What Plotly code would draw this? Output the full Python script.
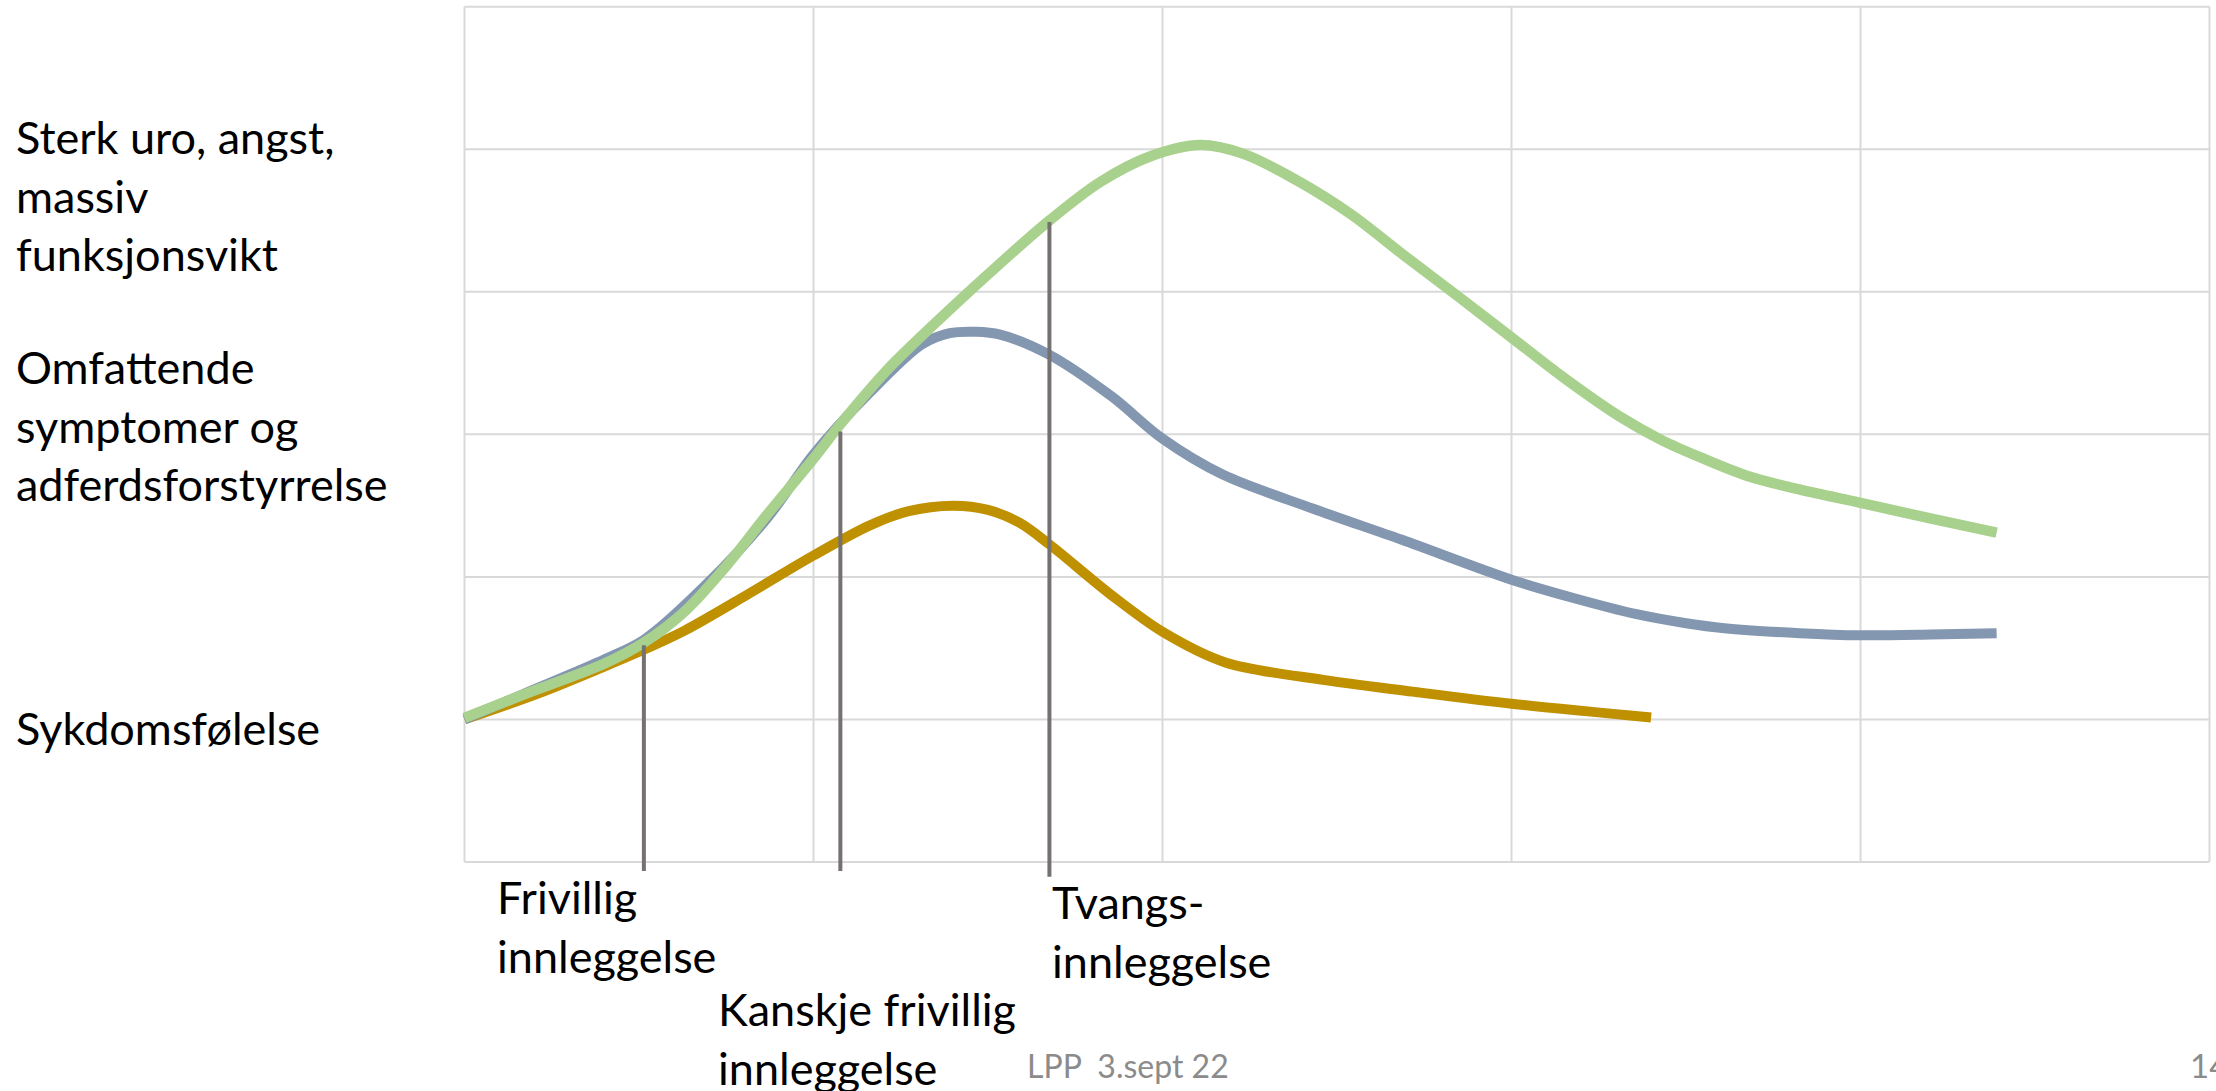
import plotly.graph_objects as go

# ---------------- data ----------------
yellow_x = [0, 0.22, 0.40, 0.515, 0.632, 0.81, 1.0, 1.16, 1.27, 1.40, 1.50, 1.59, 1.675, 1.855, 2.0, 2.18, 2.46, 2.716, 3.0, 3.40]
yellow_y = [1.0, 1.19, 1.37, 1.49, 1.625, 1.875, 2.15, 2.36, 2.46, 2.50, 2.47, 2.38, 2.23, 1.87, 1.615, 1.40, 1.277, 1.195, 1.11, 1.013]

blue_x = [0, 0.17, 0.40, 0.515, 0.69, 0.87, 1.0, 1.16, 1.31, 1.39, 1.465, 1.535, 1.675, 1.855, 2.0, 2.174, 2.43, 2.686, 3.0, 3.18, 3.355, 3.50, 3.61, 3.826, 4.0, 4.2, 4.39]
blue_y = [1.0, 1.18, 1.42, 1.56, 1.94, 2.42, 2.86, 3.29, 3.63, 3.71, 3.72, 3.70, 3.56, 3.265, 2.97, 2.716, 2.48, 2.26, 1.98, 1.85, 1.74, 1.675, 1.64, 1.605, 1.59, 1.595, 1.605]

green_x = [0, 0.165, 0.40, 0.515, 0.632, 0.748, 0.865, 1.0, 1.08, 1.214, 1.39, 1.535, 1.678, 1.821, 1.964, 2.108, 2.23, 2.38, 2.54, 2.69, 2.846, 3.0, 3.154, 3.31, 3.43, 3.54, 3.674, 3.83, 4.0, 4.2, 4.39]
green_y = [1.01, 1.17, 1.39, 1.54, 1.76, 2.07, 2.43, 2.83, 3.08, 3.46, 3.875, 4.20, 4.505, 4.77, 4.95, 5.03, 4.97, 4.79, 4.545, 4.26, 3.97, 3.68, 3.39, 3.125, 2.96, 2.84, 2.71, 2.61, 2.52, 2.41, 2.31]

marker_x = [0.514, 1.077, 1.676]
marker_top = [1.52, 3.02, 4.49]
marker_bottom = [-0.063, -0.063, -0.105]

grid_x = [0, 1, 2, 3, 4, 5]
grid_y = [0, 1, 2, 3, 4, 5, 6]

left_labels = ["Sterk uro, angst,<br>massiv<br>funksjonsvikt",
               "Omfattende<br>symptomer og<br>adferdsforstyrrelse",
               "Sykdomsfølelse"]
bottom_labels = ["Frivillig<br>innleggelse",
                 "Kanskje frivillig<br>innleggelse",
                 "Tvangs-<br>innleggelse"]
footer_text = "LPP\u00a0\u00a03.sept 22"
page_number = "14"

# ---------------- layout geometry ----------------
W, H = 2216, 1091
XR = [-0.01, 5.01]
YR = [-0.12, 6.02]
L = 460.5
PW = 1753
T = 4
PH = 875


def px(x):
    return (x - L) / PW


def py(y):
    return 1 - (y - T) / PH


FONT = "Lato, 'Noto Sans', sans-serif"

fig = go.Figure()

fig.add_trace(go.Scatter(x=yellow_x, y=yellow_y, mode="lines",
                         line=dict(color="#BF9000", width=10, shape="spline", smoothing=0.9),
                         hoverinfo="skip", showlegend=False))
fig.add_trace(go.Scatter(x=blue_x, y=blue_y, mode="lines",
                         line=dict(color="#8497B0", width=10, shape="spline", smoothing=0.9),
                         hoverinfo="skip", showlegend=False))
fig.add_trace(go.Scatter(x=green_x, y=green_y, mode="lines",
                         line=dict(color="#A9D18E", width=10.5, shape="spline", smoothing=0.9),
                         hoverinfo="skip", showlegend=False))

for xv, top, bot in zip(marker_x, marker_top, marker_bottom):
    fig.add_trace(go.Scatter(x=[xv, xv], y=[bot, top], mode="lines",
                             line=dict(color="#767171", width=4),
                             hoverinfo="skip", showlegend=False))

shapes = []
for gx in grid_x:
    shapes.append(dict(type="line", xref="x", yref="y", x0=gx, x1=gx, y0=0, y1=6,
                       line=dict(color="#D9D9D9", width=2), layer="below"))
for gy in grid_y:
    shapes.append(dict(type="line", xref="x", yref="y", x0=0, x1=5, y0=gy, y1=gy,
                       line=dict(color="#D9D9D9", width=2), layer="below"))

ann = []
left_centers = [195, 426, 728]
for txt, cy in zip(left_labels, left_centers):
    ann.append(dict(text=txt, xref="paper", yref="paper", x=px(13), y=py(cy),
                    xanchor="left", yanchor="middle", align="left", showarrow=False,
                    font=dict(family=FONT, size=45, color="black")))

bottom_pos = [(495, 926.6), (716, 1038), (1050, 931.6)]
for txt, (bx, cy) in zip(bottom_labels, bottom_pos):
    ann.append(dict(text=txt, xref="paper", yref="paper", x=px(bx), y=py(cy),
                    xanchor="left", yanchor="middle", align="left", showarrow=False,
                    font=dict(family=FONT, size=45, color="black")))

ann.append(dict(text=footer_text, xref="paper", yref="paper", x=px(1025), y=py(1065),
                xanchor="left", yanchor="middle", align="left", showarrow=False,
                font=dict(family=FONT, size=32, color="#8B8B8B")))
ann.append(dict(text=page_number, xref="paper", yref="paper", x=px(2188), y=py(1065),
                xanchor="left", yanchor="middle", align="left", showarrow=False,
                font=dict(family=FONT, size=33, color="#8B8B8B")))

fig.update_layout(
    width=W, height=H,
    margin=dict(l=L, r=W - L - PW, t=T, b=H - T - PH, pad=0),
    paper_bgcolor="white", plot_bgcolor="white",
    xaxis=dict(range=XR, showgrid=False, zeroline=False, showticklabels=False,
               showline=False, ticks=""),
    yaxis=dict(range=YR, showgrid=False, zeroline=False, showticklabels=False,
               showline=False, ticks=""),
    shapes=shapes, annotations=ann, showlegend=False,
)

fig.write_html("out.html", config={"displayModeBar": False},
               post_script="document.body.style.margin='0';document.body.style.overflow='hidden';")
